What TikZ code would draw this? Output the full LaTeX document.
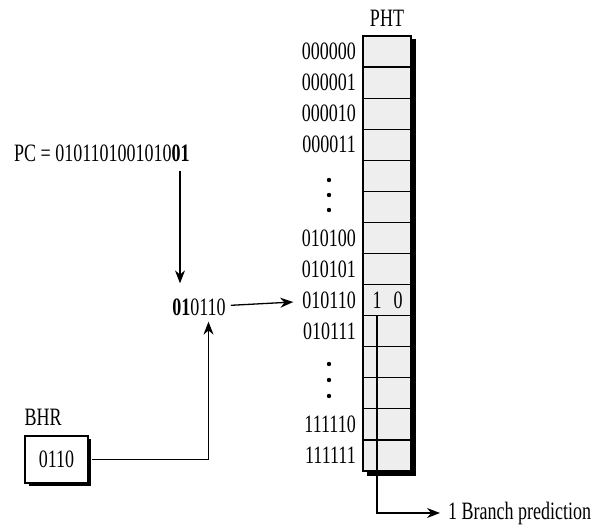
\documentclass[tikz,border=0pt]{standalone}
\usepackage{fontspec}
\setmainfont{Liberation Serif}[FakeStretch=0.72]
\usetikzlibrary{arrows.meta, positioning, fit}

\begin{document}
\begin{tikzpicture}[x=1pt, y=-1pt,
    cell/.style={draw, line width=1.2pt, fill=gray!13, minimum width=48pt,
                 minimum height=31.07pt, inner sep=0pt, outer sep=0pt},
    txt/.style={inner sep=0pt, font=\fontsize{25}{26}\selectfont},
    addr/.style={txt, anchor=east},
    arrow/.style={-{Stealth[length=13pt,width=10pt]}, line width=1.3pt}
  ]
    \useasboundingbox (0,0) rectangle (598,531);

    % pattern history table
    \fill[black] (367,39) rectangle (415.5,475.5);
    \foreach \i in {1,...,14}
      \node[cell] (r\i) at (387,{36+31.07*(\i-0.5)}) {};
    \draw[line width=1.5pt] (r1.north west) rectangle (r14.south east);
    \node[txt] (pht) at (387,18) {PHT};

    \foreach \i/\a in {1/000000,2/000001,3/000010,4/000011,7/010100,8/010101,
                       9/010110,10/010111,13/111110,14/111111}
      \node[addr] (l\i) at ([xshift=-7pt]r\i.west) {\a};

    \foreach \y in {180,195,210,364,380,396}
      \fill (329,\y) circle (2.2pt);

    \node[txt] (b1) at (377,300) {1};
    \node[txt] (b0) at (398,300) {0};

    % index formation
    \node[txt, anchor=west] (pc) at (14,153) {PC = 0101101001010\textbf{01}};
    \node[txt] (idx) at (199,307) {\textbf{01}0110};
    \coordinate (tap) at (180,0);
    \draw[arrow, shorten <=9pt, shorten >=15pt] (pc.south -| tap) -- (idx.north -| tap);
    \draw[arrow, shorten <=5pt, shorten >=9pt] (idx) -- (l9);

    % branch history register
    \fill[black] (28.5,439) rectangle (91,486);
    \node[txt, draw, line width=1.3pt, fill=white, minimum width=63pt, minimum height=47pt]
      (bhr) at (56.5,459.5) {0110};
    \node[txt, anchor=south west] (bhrlbl) at ([yshift=10pt]bhr.north west) {BHR};
    \draw[arrow, shorten >=6pt] ([xshift=3pt]bhr.east) -| ([xshift=9.5pt]idx.south);

    % prediction output
    \node[txt, anchor=west] (pred) at (448,513) {1 Branch prediction};
    \draw[arrow, shorten >=8pt] (r9.south -| b1) |- (pred.west);
\end{tikzpicture}
\end{document}
